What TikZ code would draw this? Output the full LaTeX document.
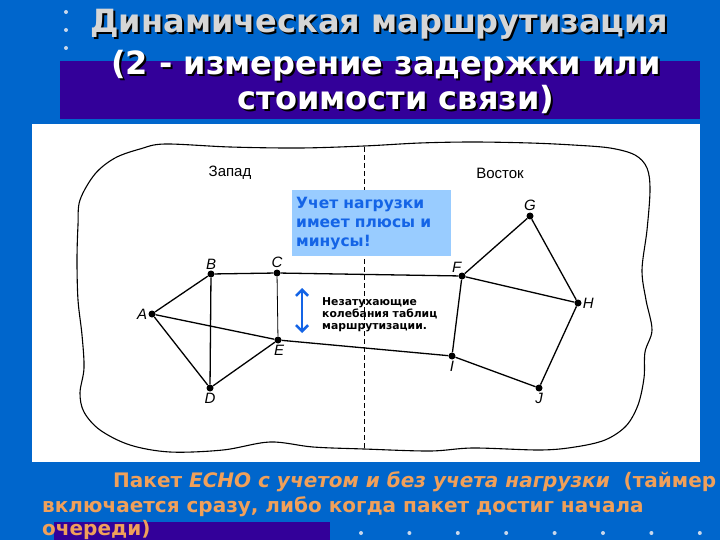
\documentclass[tikz,border=0pt]{standalone}
\usepackage{fontspec}
\setmainfont{DejaVu Sans}
\newfontfamily\lblfont{Liberation Sans}
\usetikzlibrary{arrows.meta}
\definecolor{slideblue}{RGB}{0,102,204}
\definecolor{bandpurple}{RGB}{51,0,153}
\definecolor{notefill}{RGB}{153,204,255}
\definecolor{notetext}{RGB}{20,100,230}
\definecolor{textorange}{RGB}{240,160,90}
\definecolor{titlegray}{RGB}{214,214,214}
\definecolor{dotgray}{RGB}{200,215,235}
% text with a dark drop shadow
\newcommand{\shadowed}[2]{\rlap{\kern2pt\raisebox{-2pt}{\color{black}#2}}{\color{#1}#2}}

\begin{document}
\begin{tikzpicture}[x=1pt,y=-1pt,
  router/.style={circle,fill=black,inner sep=0pt,minimum size=7pt},
  rlabel/.style={font=\lblfont\itshape\fontsize{15}{15}\selectfont,inner sep=1pt},
  link/.style={line width=1.3pt},
  thinlink/.style={line width=0.8pt},
  ttl/.style={anchor=base,inner sep=0pt,font=\bfseries\fontsize{32}{36}\selectfont},
  bottomtext/.style={anchor=base west,inner sep=0pt,text=textorange,
    font=\bfseries\fontsize{20}{24}\selectfont},
  region/.style={font=\lblfont\fontsize{15}{15}\selectfont}]
  \useasboundingbox (0,0) rectangle (720,540);
  % slide background
  \fill[slideblue] (0,0) rectangle (720,540);
  \fill[bandpurple] (60,61) rectangle (700,119);
  \fill[bandpurple] (54,522) rectangle (330,540);
  \fill[white] (32,124) rectangle (700,462);
  \foreach \y in {12,30,48}
    \fill[dotgray] (66,\y) circle (2);
  \foreach \i in {0,...,7}
    \fill[dotgray] (361+48.4*\i,533) circle (2);

  % title
  \node[ttl] (title1) at (379,33) {\shadowed{titlegray}{Динамическая маршрутизация}};
  \node[ttl] (title2) at (386,75) {\shadowed{white}{(2 - измерение задержки или}};
  \node[ttl] (title3) at (396,110) {\shadowed{white}{стоимости связи)}};

  % network border
  \draw[line width=1.1pt] plot[smooth cycle,tension=0.55] coordinates {
    (80,200) (95,174) (115,158) (140,149) (165,144) (230,147) (300,148)
    (364,146) (420,143) (473,142) (530,143) (573,145) (610,148) (635,155)
    (647,168) (650,190) (647,230) (642,270) (646,300) (652,330) (645,352)
    (644,378) (638,405) (626,426) (605,440) (575,447) (540,450) (473,448)
    (430,451) (364,449) (313,447) (270,442) (223,450) (170,452) (130,445)
    (100,430) (84,412) (80,393) (84,368) (82,335) (78,300) (77,260) (78,225)};
  \coordinate (split-top) at (364,147);
  \coordinate (split-bot) at (364,449);
  \draw[line width=0.9pt,dash pattern=on 5pt off 3pt] (split-top) -- (split-bot);
  \node[region] (west) at (230,173) {Запад};
  \node[region] (east) at (500,173) {Восток};

  % routers
  \node[router,label={[rlabel]left:A}] (A) at (152,314) {};
  \node[router,label={[rlabel]above:B}] (B) at (211,274) {};
  \node[router,label={[rlabel]above:C}] (C) at (277,273) {};
  \node[router,label={[rlabel]below:D}] (D) at (210,388) {};
  \node[router,label={[rlabel,xshift=1pt]below:E}] (E) at (278,340) {};
  \node[router,label={[rlabel,xshift=3pt]above left:F}] (F) at (462,276) {};
  \node[router,label={[rlabel]above:G}] (G) at (530,216) {};
  \node[router,label={[rlabel]right:H}] (H) at (578,303) {};
  \node[router,label={[rlabel]below:I}] (I) at (452,356) {};
  \node[router,label={[rlabel]below:J}] (J) at (539,388) {};

  \draw[link] (A) -- (B) (A) -- (D) (A) -- (E) (B) -- (C) (B) -- (D)
    (D) -- (E) (C) -- (F) (E) -- (I) (F) -- (I) (F) -- (G) (F) -- (H)
    (G) -- (H) (H) -- (J) (I) -- (J);
  \draw[thinlink] (C) -- (E);

  % note and oscillation mark
  \node[anchor=north west,fill=notefill,minimum width=159pt,minimum height=66pt,
    text width=151pt,inner xsep=4pt,align=left,text=notetext,
    font=\bfseries\fontsize{15.5}{19}\selectfont] (note) at (292,190)
    {Учет нагрузки\\имеет плюсы и\\минусы!};
  \coordinate (osc-top) at (302,288);
  \coordinate (osc-bot) at (302,333);
  \draw[notetext,line width=2.6pt,
    {Straight Barb[length=6pt,width=12pt]}-{Straight Barb[length=6pt,width=12pt]}]
    (osc-top) -- (osc-bot);
  \node[anchor=north west,align=left,inner sep=0pt,
    font=\bfseries\fontsize{10.8}{12}\selectfont] (osc) at (322,297)
    {Незатухающие\\колебания таблиц\\маршрутизации.};

  % bottom text
  \node[bottomtext] (line1) at (113,487)
    {Пакет \textit{ECHO с учетом и без учета нагрузки}\ \ (таймер};
  \node[bottomtext] (line2) at (42,512)
    {включается сразу, либо когда пакет достиг начала};
  \node[bottomtext] (line3) at (42,535) {очереди)};
\end{tikzpicture}
\end{document}
